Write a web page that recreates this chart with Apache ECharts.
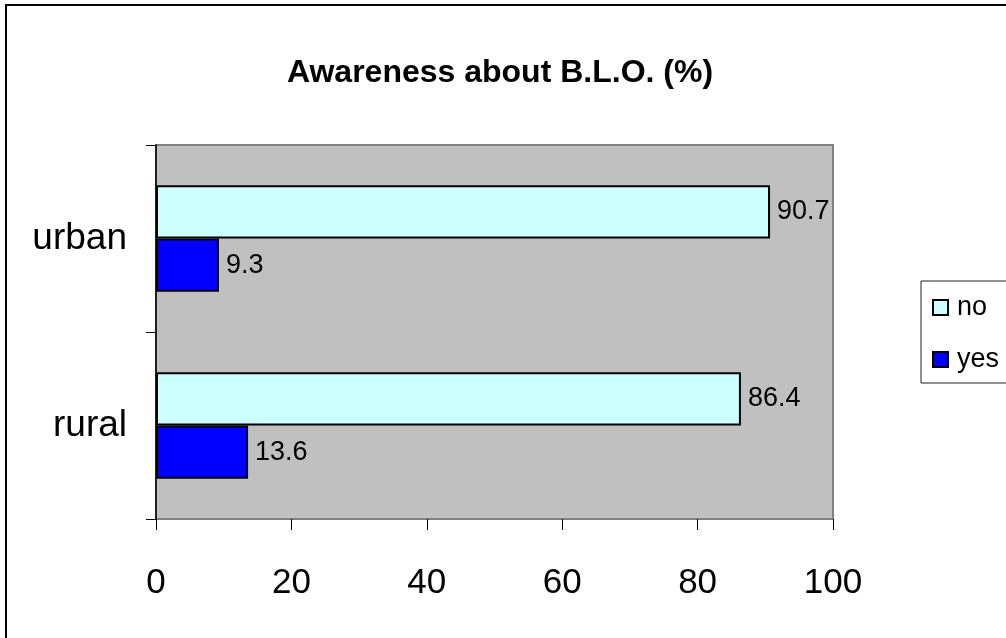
<!DOCTYPE html>
<html>
<head>
<meta charset="utf-8">
<script src="https://cdn.jsdelivr.net/npm/echarts@6/dist/echarts.min.js"></script>
<style>
html,body{margin:0;padding:0;background:#fff;}
#chart{width:1006px;height:638px;}
</style>
</head>
<body>
<div id="chart"></div>
<script>
var titleText = 'Awareness about B.L.O. (%)';
var categories = ['rural', 'urban'];
var noValues = [86.4, 90.7];
var yesValues = [13.6, 9.3];
var legendLabels = ['no', 'yes'];
var xTicks = { min: 0, max: 100, interval: 20 };

var FONT = 'Liberation Sans, Arial, sans-serif';
var chart = echarts.init(document.getElementById('chart'));

var labelStyle = {
  show: true,
  position: 'right',
  distance: 7,
  color: '#000',
  fontFamily: FONT,
  fontSize: 27
};

chart.setOption({
  animation: false,
  backgroundColor: '#fff',
  title: {
    text: titleText,
    left: 495,
    top: 52,
    textAlign: 'center',
    textStyle: { fontFamily: FONT, fontSize: 32, fontWeight: 'bold', color: '#000' }
  },
  graphic: [
    { type: 'rect', shape: { x: 6, y: 5, width: 1100, height: 700 },
      style: { fill: 'none', stroke: '#000', lineWidth: 2 }, z: 100 },
    { type: 'rect', shape: { x: 921, y: 281, width: 200, height: 102 },
      style: { fill: 'none', stroke: '#222', lineWidth: 1 }, z: 100 }
  ],
  legend: {
    data: legendLabels,
    orient: 'vertical',
    left: 932,
    top: 294,
    padding: 0,
    itemGap: 25,
    itemWidth: 15,
    itemHeight: 15,
    icon: 'rect',
    textStyle: { fontFamily: FONT, fontSize: 27, lineHeight: 27, color: '#000', padding: [0, 0, 0, 4] }
  },
  grid: {
    left: 156, top: 145, right: 173, bottom: 119,
    show: true,
    backgroundColor: '#C0C0C0',
    borderColor: '#808080',
    borderWidth: 2
  },
  xAxis: {
    type: 'value',
    min: xTicks.min, max: xTicks.max, interval: xTicks.interval,
    axisLine: { show: true, lineStyle: { color: '#808080', width: 1 } },
    axisTick: { show: true, length: 11, lineStyle: { color: '#000' } },
    splitLine: { show: false },
    axisLabel: { margin: 47, fontFamily: FONT, fontSize: 35, color: '#000' }
  },
  yAxis: {
    type: 'category',
    data: categories,
    axisLine: { show: true, lineStyle: { color: '#000', width: 1.5 } },
    axisTick: { show: true, length: 10, lineStyle: { color: '#000' } },
    splitLine: { show: false },
    axisLabel: { margin: 29, fontFamily: FONT, fontSize: 37, color: '#000', padding: [10, 0, 0, 0] }
  },
  series: [
    {
      name: 'no', type: 'bar', data: noValues,
      barGap: '0%', barCategoryGap: '43%',
      itemStyle: { color: '#CCFFFF', borderColor: '#000', borderWidth: 2 },
      label: labelStyle
    },
    {
      name: 'yes', type: 'bar', data: yesValues,
      barGap: '0%', barCategoryGap: '43%',
      itemStyle: { color: '#0000FF', borderColor: '#000', borderWidth: 2 },
      label: labelStyle
    }
  ]
});
</script>
</body>
</html>
